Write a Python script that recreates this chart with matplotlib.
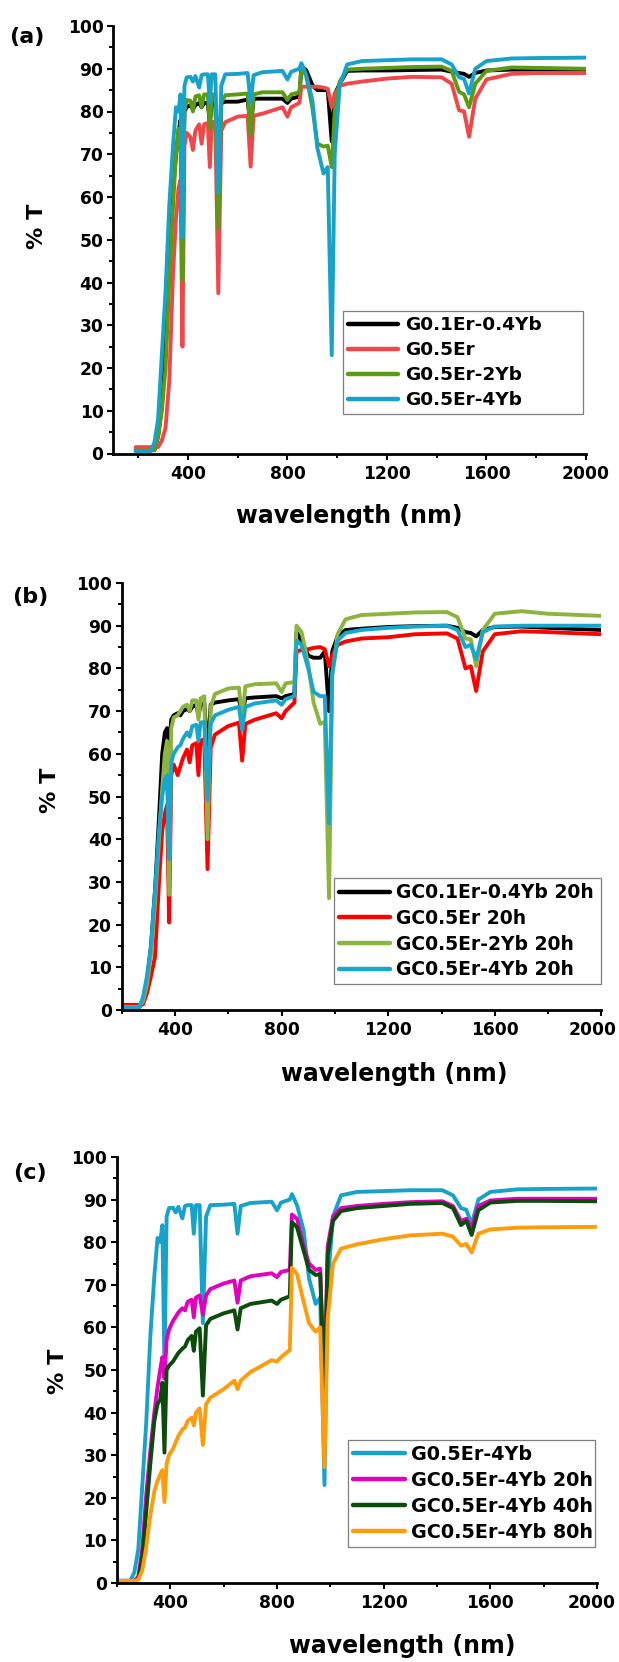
import matplotlib
matplotlib.use("Agg")
import matplotlib.pyplot as plt
import matplotlib.transforms as mtransforms
from matplotlib.ticker import MultipleLocator

plt.rcParams['font.family'] = ['DejaVu Sans']
plt.rcParams['font.weight'] = 'bold'

WL = [190, 250, 265, 280, 295, 310, 325, 340, 352, 362, 370, 378, 386, 395, 410, 420, 430, 445, 455, 465,
      480, 488, 496, 510, 522, 534, 550, 600, 640, 652, 664, 700, 780, 800, 815, 848, 856, 875, 900, 920,
      945, 962, 978, 990, 1010, 1040, 1100, 1200, 1300, 1420, 1460, 1490, 1510, 1530, 1555, 1600, 1700, 1800, 2000]

# ---- panel (a): glasses ----
a_labels = ['G0.1Er-0.4Yb', 'G0.5Er', 'G0.5Er-2Yb', 'G0.5Er-4Yb']
a_black = [0.8, 0.8, 0.8, 4, 11, 25, 45, 62, 70, 75, 78, 58, 80, 81, 81.5, 80.5, 81.5, 82, 81, 82,
           82, 77, 82.5, 82.5, 60, 82, 82.3, 82.3, 82.8, 76, 83, 83, 83, 82, 83, 83.5, 90.5, 89.7, 86.2, 85,
           85, 85, 73, 84, 86.5, 89.5, 89.6, 89.6, 89.7, 89.8, 89.3, 89, 88.8, 88.1, 89, 89.6, 89.8, 89.8, 89.8]
a_red = [1.5, 1.5, 1.5, 1.5, 3, 6, 17, 42, 55, 62, 64, 25, 72, 75, 74, 71, 75.5, 77, 72.5, 77,
         77.3, 67, 77.5, 77.6, 37.5, 75.5, 77.5, 78.8, 79, 67.1, 79, 79.5, 81, 78.8, 81, 82, 85.8, 85.8, 85.8, 85.8,
         85.6, 85.3, 81, 84, 86, 86.5, 87, 87.7, 88.1, 88, 86.5, 80.3, 80, 74.1, 83, 87.5, 88.8, 89, 89]
a_green = [0.7, 0.7, 0.8, 4, 10, 20, 40, 58, 70, 76, 73, 40.5, 80, 82.7, 82.5, 80, 83.5, 83.8, 81, 84,
           84, 76, 84, 84, 52.6, 82, 83.8, 84, 84.2, 74.5, 84, 84.5, 84.5, 82.7, 84, 84.5, 90, 88.5, 81, 72.5,
           71.8, 72, 67, 80, 87, 89.8, 90, 90.2, 90.4, 90.5, 89.5, 84.6, 84, 81, 86.5, 89.5, 90.3, 90.2, 90]
a_cyan = [0.5, 0.5, 2.5, 8, 23, 38, 58, 72, 81, 80, 84, 50.5, 86, 88, 88.1, 87, 88.3, 85.6, 88.5, 88.7,
          88.7, 82, 88.7, 88.7, 61, 86, 88.7, 88.8, 89, 82, 88.5, 89.2, 89.5, 87.5, 89.3, 90, 91.3, 88.7, 82.7, 71.5,
          65.5, 67, 23, 70, 86, 91, 91.8, 92, 92.2, 92.2, 91, 88, 87.6, 84.2, 90, 91.8, 92.4, 92.5, 92.6]
a_colors = ['#000000', '#F2474A', '#5B9A12', '#17A3C9']

# ---- panel (b): glass-ceramics 20 h ----
b_labels = ['GC0.1Er-0.4Yb 20h', 'GC0.5Er 20h', 'GC0.5Er-2Yb 20h', 'GC0.5Er-4Yb 20h']
b_black = [0.5, 0.5, 0.5, 2, 7, 15, 28, 45, 60, 65, 66, 62, 68, 69, 69.5, 69, 70, 70.5, 70, 71,
           71.5, 69, 71.5, 71.8, 60, 71.5, 72, 72.5, 72.8, 69, 73, 73.2, 73.5, 73, 73.5, 74, 88.5, 86.5, 83, 82.5,
           82.5, 84, 70, 84, 87.5, 89, 89.3, 89.7, 89.9, 90, 89.5, 88.5, 88.3, 87.5, 89, 89.7, 89.8, 89.5, 89]
b_red = [1.2, 1.2, 1.2, 1.3, 4, 8, 12.5, 30, 42, 46, 48, 20.5, 55, 57.5, 55, 57, 59, 61, 58, 62,
         62.5, 55, 63, 63.5, 33, 61.5, 64.5, 66.5, 67.3, 58.4, 67, 68, 69.5, 68.3, 70, 72, 84, 84.3, 84.5, 84.8,
         85, 84.5, 80.5, 83, 85.5, 86.3, 87, 87.3, 88, 88.2, 87, 80, 80.5, 74.7, 84, 88, 88.7, 88.5, 88]
b_green = [0.7, 0.7, 0.7, 2, 6, 13, 25, 40, 52, 60, 63, 27, 66, 68.5, 69, 70, 71, 71.5, 70, 72.5,
           72.5, 68, 73, 73.5, 40, 71, 74, 75.3, 75.5, 68, 75.8, 76.3, 76.5, 74.5, 76.5, 76.8, 90, 88.5, 81, 72,
           67, 67.5, 26.2, 78, 88, 91.5, 92.5, 92.8, 93.1, 93.2, 92, 87, 86.8, 80.5, 89, 92.8, 93.4, 92.8, 92.3]
b_cyan = [0.5, 0.5, 0.5, 3, 8, 15, 28, 42, 50, 54, 55, 35.4, 58, 60, 61.5, 62, 63.5, 65, 64, 66.5,
          66.8, 63, 67.3, 67.5, 49.2, 67, 69, 70.3, 71, 65.5, 71, 71.8, 72.5, 71.5, 72.8, 73.5, 86.5, 85.5, 80, 74.5,
          73.5, 73.5, 43.7, 79, 86.5, 88.3, 89, 89.5, 89.8, 90, 89, 85, 85.5, 82.2, 88.5, 89.8, 90, 90, 90]
b_colors = ['#000000', '#FF0000', '#8DB43F', '#17A6CD']

# ---- panel (c): G0.5Er-4Yb vs heat-treatment time ----
c_labels = ['G0.5Er-4Yb', 'GC0.5Er-4Yb 20h', 'GC0.5Er-4Yb 40h', 'GC0.5Er-4Yb 80h']
c_cyan = a_cyan
c_magenta = [0.5, 0.5, 0.5, 1.5, 8, 21, 31, 40, 46, 50, 53, 48, 57, 59.5, 61.5, 62.5, 63.5, 64.5, 64, 66,
             66.5, 62.4, 67, 67.5, 63, 67.5, 69, 70.3, 71, 65.8, 71, 72, 72.7, 71.8, 73, 73.5, 86.5, 85.5, 79, 75,
             73.5, 73.8, 45, 79, 86, 88, 88.5, 89, 89.4, 89.6, 88.5, 85, 85.5, 83.3, 88.5, 89.8, 90.2, 90.2, 90.2]
c_dgreen = [0.5, 0.5, 0.5, 1, 6, 17, 28, 38, 42, 43, 47, 30.6, 50, 51, 52, 53, 54, 55, 55.5, 57,
            58, 54.5, 59, 59.8, 44, 60.5, 62, 63.3, 64, 59.5, 64.5, 65.5, 66.3, 65.5, 66.5, 67.3, 84.7, 83.5, 78, 73.5,
            72.3, 72.5, 43.2, 77, 85, 87.3, 88, 88.5, 89, 89.2, 88, 84, 85, 81.7, 87.5, 89.3, 89.7, 89.7, 89.6]
c_orange = [0.5, 0.5, 0.5, 0.8, 3, 8.5, 16, 21.5, 24, 25.5, 26.5, 19, 28, 30, 31.5, 33, 34.5, 36, 36.5, 38,
            38.8, 37, 40, 41, 32.4, 42, 43.5, 45.5, 47.5, 45.5, 47.5, 49.5, 52.3, 52, 53, 54.7, 74, 72.5, 66, 61,
            59, 60, 27.2, 62, 75, 78.5, 79.5, 80.7, 81.6, 82, 81.3, 79.2, 79.6, 77.6, 82, 83, 83.4, 83.5, 83.6]
c_colors = ['#17A3C9', '#E000BE', '#0B4B0B', '#FF9C0C']

YTICKS = list(range(0, 101, 10))
XTICKS = [400, 800, 1200, 1600, 2000]

W, H = 619, 1662
fig = plt.figure(figsize=(W / 100, H / 100), dpi=100)


def px_axes(x0, x1, y0, y1):
    # pixel box (left, right, top, bottom) -> figure fraction
    return fig.add_axes([x0 / W, 1 - y1 / H, (x1 - x0) / W, (y1 - y0) / H])


panels = [
    dict(box=(113.3, 586, 26, 453.5), xmin=100, series=[a_black, a_red, a_green, a_cyan],
         labels=a_labels, colors=a_colors, tag='(a)', tagpos=(27, 37), ylab=(37, 226), xlab=(349, 516),
         leg=(343, 583, 311, 429), lfs=13.3, hl=2.7, htp=0.4, ls=0.38, shift=0),
    dict(box=(121.7, 601.4, 583, 1010), xmin=200, series=[b_black, b_red, b_green, b_cyan],
         labels=b_labels, colors=b_colors, tag='(b)', tagpos=(30, 597), ylab=(50, 790), xlab=(394, 1074),
         leg=(334, 601, 878, 995), lfs=13.5, hl=2.7, htp=0.32, ls=0.36, shift=9),
    dict(box=(117, 597, 1157, 1583), xmin=200, series=[c_cyan, c_magenta, c_dgreen, c_orange],
         labels=c_labels, colors=c_colors, tag='(c)', tagpos=(30, 1173), ylab=(58, 1371), xlab=(402, 1646),
         leg=(348, 595, 1440, 1557), lfs=13.8, hl=2.7, htp=0.32, ls=0.36, shift=5),
]

for p in panels:
    ax = px_axes(*p['box'])
    for ys, lab, col in zip(p['series'], p['labels'], p['colors']):
        ax.plot(WL, ys, color=col, lw=2.8, label=lab, solid_capstyle='round', solid_joinstyle='round')
    ax.set_xlim(p['xmin'], 2000)
    ax.set_ylim(0, 100)
    ax.set_xticks(XTICKS)
    ax.set_yticks(YTICKS)
    ax.xaxis.set_minor_locator(MultipleLocator(200))
    ax.yaxis.set_minor_locator(MultipleLocator(5))
    for s in ['top', 'right']:
        ax.spines[s].set_visible(False)
    for s in ['left', 'bottom']:
        ax.spines[s].set_linewidth(2.0)
    ax.tick_params(which='major', direction='out', length=4, width=1.5, labelsize=12.3)
    ax.tick_params(axis='x', which='major', pad=4)
    ax.tick_params(axis='y', which='major', pad=3)
    ax.tick_params(which='minor', direction='out', length=2.8, width=1.4)
    for t in ax.get_xticklabels() + ax.get_yticklabels():
        t.set_fontweight('bold')
    if p['shift']:
        last = ax.xaxis.get_major_ticks()[-1].label1
        last.set_transform(last.get_transform() +
                           mtransforms.ScaledTranslation(-p['shift'] / 100, 0, fig.dpi_scale_trans))
    lx0, lx1, ly0, ly1 = p['leg']
    leg = ax.legend(loc='upper left', bbox_to_anchor=(lx0 / W, 1 - ly1 / H, (lx1 - lx0) / W, (ly1 - ly0) / H),
                    bbox_transform=fig.transFigure, mode='expand', borderaxespad=0, fancybox=False,
                    edgecolor='#7F7F7F', framealpha=1, prop={'size': p['lfs'], 'weight': 'bold'},
                    handlelength=p['hl'], handletextpad=p['htp'], labelspacing=p['ls'], borderpad=0.27)
    leg.get_frame().set_linewidth(0.9)
    for lh in leg.get_lines():
        lh.set_linewidth(3.2)
    fig.text(p['tagpos'][0] / W, 1 - p['tagpos'][1] / H, p['tag'], fontsize=16, fontweight='bold',
             ha='center', va='center')
    fig.text(p['ylab'][0] / W, 1 - p['ylab'][1] / H, '% T', fontsize=16, fontweight='bold',
             ha='center', va='center', rotation=90)
    fig.text(p['xlab'][0] / W, 1 - p['xlab'][1] / H, 'wavelength (nm)', fontsize=17, fontweight='bold',
             ha='center', va='center')

fig.savefig('out.png', dpi=100, facecolor='white')
